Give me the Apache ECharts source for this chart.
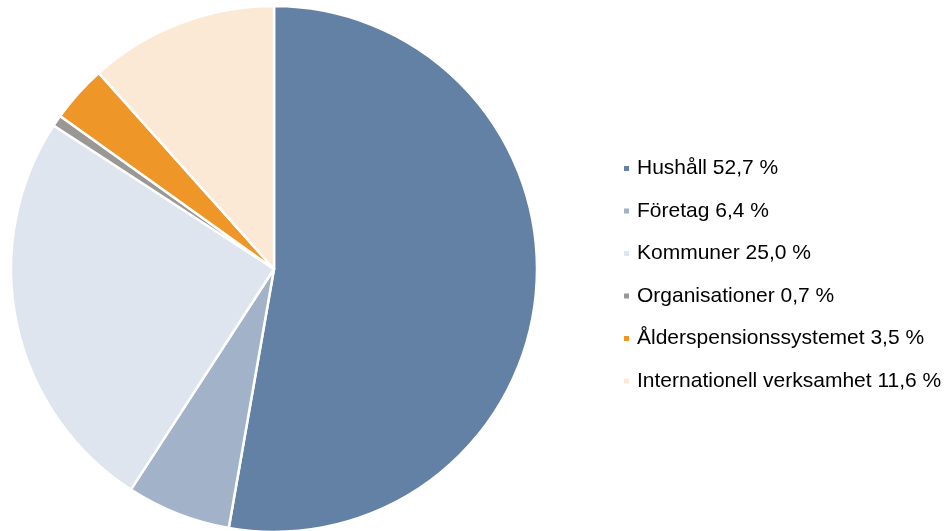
<!DOCTYPE html>
<html>
<head>
<meta charset="utf-8">
<script src="https://cdn.jsdelivr.net/npm/echarts@6/dist/echarts.min.js"></script>
<style>
  html, body { margin: 0; padding: 0; background: #fff; }
  #chart { width: 952px; height: 531px; }
</style>
</head>
<body>
<div id="chart"></div>
<script>
const categories = ["Hushåll", "Företag", "Kommuner", "Organisationer", "Ålderspensionssystemet", "Internationell verksamhet"];
const values = [52.7, 6.4, 25.0, 0.7, 3.5, 11.6];
const colors = ["#6281a5", "#a2b3c9", "#dfe5ee", "#9a9894", "#ee9728", "#fbe8d5"];

const chart = echarts.init(document.getElementById("chart"));

const fmt = (v) => v.toFixed(1).replace(".", ",");

chart.setOption({
  animation: false,
  color: colors,
  legend: {
    orient: "vertical",
    left: 617,
    top: 153,
    itemWidth: 7,
    itemHeight: 7,
    itemGap: 21.5,
    icon: "rect",
    textStyle: {
      fontFamily: "Liberation Sans, Arial, sans-serif",
      fontSize: 21,
      lineHeight: 21,
      color: "#000",
      padding: [0, 0, 0, 2]
    },
    formatter: (name) => name + " " + fmt(values[categories.indexOf(name)]) + " %",
    data: categories
  },
  series: [
    {
      type: "pie",
      center: [274, 269],
      radius: [0, 263],
      startAngle: 90,
      clockwise: true,
      label: { show: false },
      labelLine: { show: false },
      emphasis: { disabled: true },
      itemStyle: { borderColor: "#fff", borderWidth: 2.5 },
      data: categories.map((c, i) => ({ name: c, value: values[i] }))
    }
  ]
});
</script>
</body>
</html>
